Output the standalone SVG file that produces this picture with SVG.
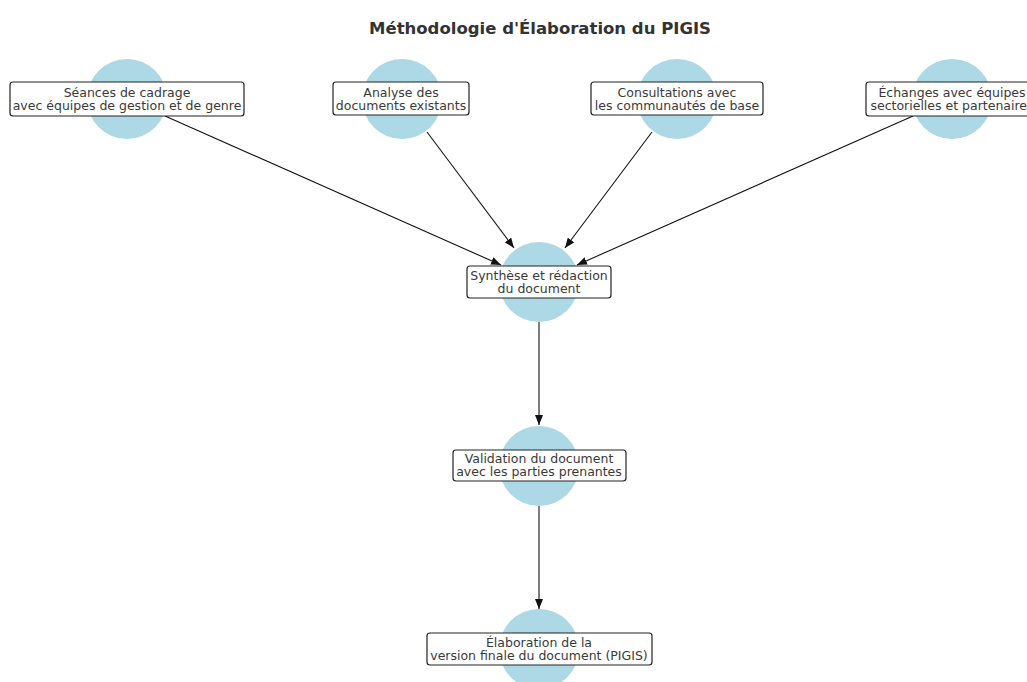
<svg xmlns="http://www.w3.org/2000/svg" width="1027" height="682" viewBox="0 0 1027 682">
<defs>
<style>
.bg{fill:#ffffff}
.c{fill:#add8e6}
.b{fill:#ffffff;stroke:#222;stroke-width:1.2}
.t{font-family:"DejaVu Sans",sans-serif;font-size:12.5px;fill:#3a3a3a;text-anchor:middle}
.title{font-family:"DejaVu Sans",sans-serif;font-size:16.5px;font-weight:bold;fill:#333;text-anchor:middle}
.e{stroke:#111;stroke-width:1.1;fill:none;marker-end:url(#ah)}
</style>
<marker id="ah" viewBox="0 0 10 8" refX="10" refY="4" markerWidth="10" markerHeight="8" markerUnits="userSpaceOnUse" orient="auto">
<path d="M0,0 L10,4 L0,8 Z" fill="#111"/>
</marker>
</defs>
<rect class="bg" x="0" y="0" width="1027" height="682"/>
<text class="title" x="540" y="34">Méthodologie d'Élaboration du PIGIS</text>
<g id="connectors">
<line class="e" x1="165" y1="116" x2="501" y2="265"/>
<line class="e" x1="427" y1="132" x2="514" y2="248"/>
<line class="e" x1="652" y1="132" x2="565" y2="248"/>
<line class="e" x1="913" y1="116" x2="577" y2="265"/>
<line class="e" x1="539" y1="322" x2="539" y2="425"/>
<line class="e" x1="539" y1="506" x2="539" y2="609"/>
</g>
<g id="n1">
<circle class="c" cx="127" cy="99" r="40"/>
<rect class="b" x="10" y="82" width="234" height="34" rx="3"/>
<text class="t" x="127" y="96.5">Séances de cadrage</text>
<text class="t" x="127" y="109.5">avec équipes de gestion et de genre</text>
</g>
<g id="n2">
<circle class="c" cx="402" cy="99" r="40"/>
<rect class="b" x="333" y="82" width="136" height="33" rx="3"/>
<text class="t" x="401" y="96.5">Analyse des</text>
<text class="t" x="401" y="109.5">documents existants</text>
</g>
<g id="n3">
<circle class="c" cx="677" cy="99" r="40"/>
<rect class="b" x="591" y="82" width="172" height="33" rx="3"/>
<text class="t" x="677" y="96.5">Consultations avec</text>
<text class="t" x="677" y="109.5">les communautés de base</text>
</g>
<g id="n4">
<circle class="c" cx="952" cy="99" r="40"/>
<rect class="b" x="866" y="82" width="176" height="34" rx="3"/>
<text class="t" x="952" y="96.5">Échanges avec équipes</text>
<text class="t" x="952" y="109.5">sectorielles et partenaires</text>
</g>
<g id="n5">
<circle class="c" cx="539" cy="282" r="40"/>
<rect class="b" x="467" y="266" width="144" height="32" rx="3"/>
<text class="t" x="539" y="280">Synthèse et rédaction</text>
<text class="t" x="539" y="293">du document</text>
</g>
<g id="n6">
<circle class="c" cx="539" cy="466" r="40"/>
<rect class="b" x="453" y="450" width="173" height="31" rx="3"/>
<text class="t" x="539" y="462.5">Validation du document</text>
<text class="t" x="539" y="475.5">avec les parties prenantes</text>
</g>
<g id="n7">
<circle class="c" cx="539" cy="649" r="40"/>
<rect class="b" x="427" y="633" width="225" height="32" rx="3"/>
<text class="t" x="539" y="646.5">Élaboration de la</text>
<text class="t" x="539" y="659.5">version finale du document (PIGIS)</text>
</g>
</svg>
